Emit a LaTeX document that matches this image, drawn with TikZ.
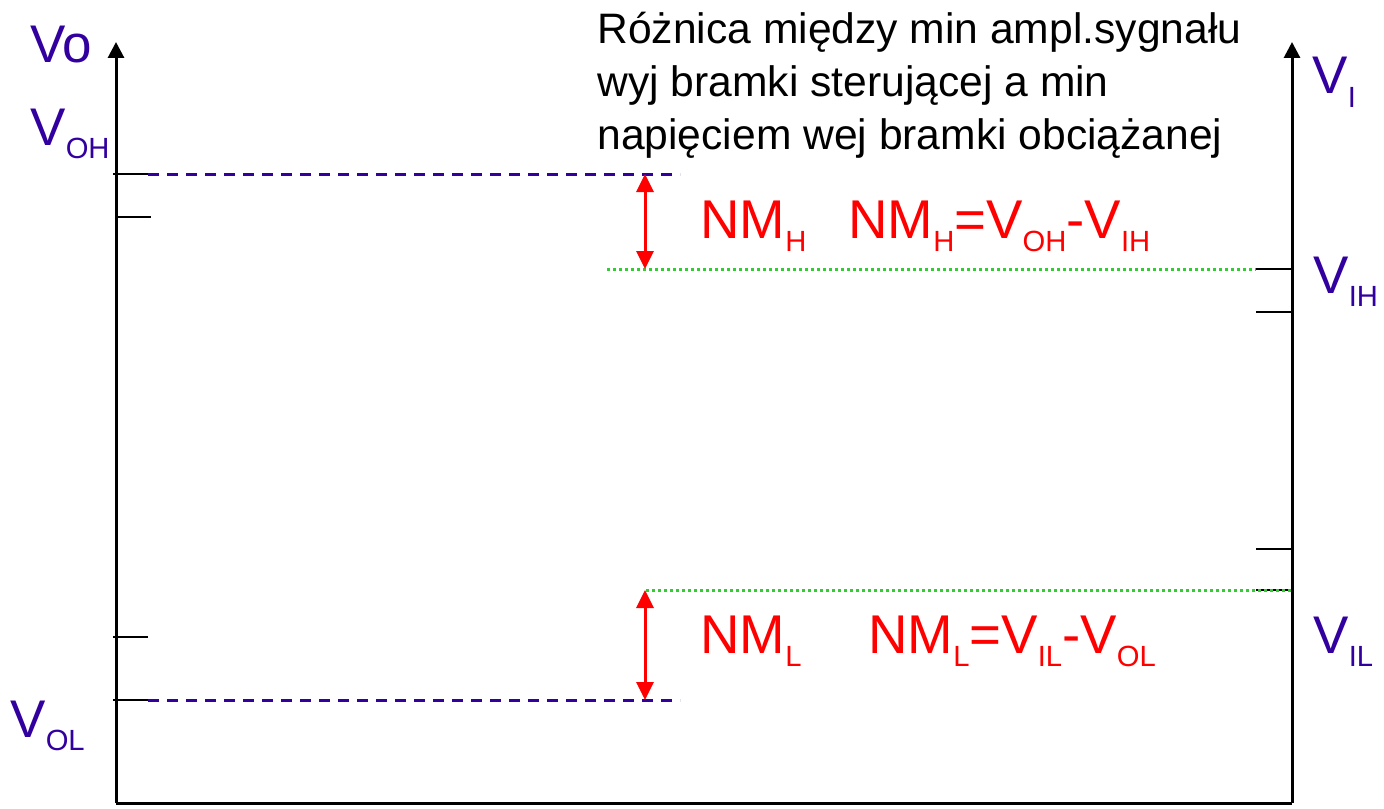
\documentclass[tikz,border=0pt]{standalone}
\usepackage{fontspec}
\setmainfont{Liberation Sans}
\usetikzlibrary{arrows.meta}
\definecolor{vblue}{HTML}{3300A0}
\definecolor{vgreen}{HTML}{33CC33}
\definecolor{vred}{HTML}{FF0000}
\newcommand{\sbs}[1]{\raisebox{-6.5pt}{\fontsize{14.6}{14.6}\selectfont #1}}
\begin{document}
\begin{tikzpicture}[x=0.5pt,y=-0.5pt,
  axisline/.style={line width=1.5pt,-{Triangle[width=8pt,length=8pt]}},
  tickline/.style={line width=1.1pt},
  bluedash/.style={vblue,line width=1.5pt,dash pattern=on 5.5pt off 4pt},
  greendot/.style={vgreen,line width=1.5pt,dash pattern=on 1.5pt off 1.5pt},
  nmarrow/.style={vred,line width=1.5pt,{Triangle[width=8.5pt,length=9pt]}-{Triangle[width=8.5pt,length=9pt]}},
  vlabel/.style={vblue,anchor=base west,inner sep=0pt,font=\fontsize{26.5}{26.5}\selectfont},
  nmlabel/.style={vred,anchor=base west,inner sep=0pt,font=\fontsize{27.3}{27.3}\selectfont},
  note/.style={anchor=north west,inner sep=0pt,align=left,font=\fontsize{21.3}{26.5}\selectfont}]
\useasboundingbox (0,0) rectangle (1384,808);
% axes
\coordinate (O) at (116,803);
\coordinate (Ltop) at (116,42);
\coordinate (R) at (1292,803);
\coordinate (Rtop) at (1292,42);
\draw[axisline] (O) -- (Ltop);
\draw[axisline] (R) -- (Rtop);
\draw[line width=1.5pt] (O) -- (R);
% left ticks
\coordinate (oh0) at (113,174); \coordinate (oh1) at (148,174);
\coordinate (t2a) at (116,217); \coordinate (t2b) at (151,217);
\coordinate (t3a) at (113,637); \coordinate (t3b) at (148,637);
\coordinate (ol0) at (113,700); \coordinate (ol1) at (148,700);
\draw[tickline] (oh0) -- (oh1);
\draw[tickline] (t2a) -- (t2b);
\draw[tickline] (t3a) -- (t3b);
\draw[tickline] (ol0) -- (ol1);
% right ticks
\coordinate (ih0) at (1256,269); \coordinate (ih1) at (1292,269);
\coordinate (r2a) at (1256,312); \coordinate (r2b) at (1292,312);
\coordinate (r3a) at (1256,549); \coordinate (r3b) at (1292,549);
\coordinate (il0) at (1256,590); \coordinate (il1) at (1292,590);
\draw[tickline] (ih0) -- (ih1);
\draw[tickline] (r2a) -- (r2b);
\draw[tickline] (r3a) -- (r3b);
\draw[tickline] (il0) -- (il1);
% dashed / dotted levels
\coordinate (ohe) at (680,174);
\coordinate (ole) at (680,700);
\coordinate (ihs) at (607,269);
\coordinate (ils) at (646,590);
\coordinate (ile) at (1294,590);
\draw[bluedash] (oh1) -- (ohe);
\draw[bluedash] (ol1) -- (ole);
\draw[greendot] (ihs) -- (ih0);
\draw[greendot] (ils) -- (ile);
% noise margin arrows
\coordinate (ah1) at (645,174); \coordinate (ah2) at (645,269);
\coordinate (al1) at (645,590); \coordinate (al2) at (645,700);
\draw[nmarrow] (ah1) -- (ah2);
\draw[nmarrow] (al1) -- (al2);
% labels
\node[vlabel,font=\fontsize{26.5}{26.5}\selectfont] (vo) at (30,62) {Vo};
\node[vlabel] (voh) at (30,145) {V\sbs{OH}};
\node[vlabel] (vol) at (10,737) {V\sbs{OL}};
\node[vlabel] (vi) at (1312,94) {V\sbs{I}};
\node[vlabel] (vih) at (1313,293) {V\sbs{IH}};
\node[vlabel] (vil) at (1313,653) {V\sbs{IL}};
\node[nmlabel] (nmh) at (700,238) {NM\sbs{H}};
\node[nmlabel] (nmhe) at (848,238) {NM\sbs{H}=V\sbs{OH}-V\sbs{IH}};
\node[nmlabel] (nml) at (700,653) {NM\sbs{L}};
\node[nmlabel] (nmle) at (868,653) {NM\sbs{L}=V\sbs{IL}-V\sbs{OL}};
\node[note] (txt) at (597,12) {Różnica między min ampl.sygnału\\wyj bramki sterującej a min\\napięciem wej bramki obciążanej};
\end{tikzpicture}
\end{document}
